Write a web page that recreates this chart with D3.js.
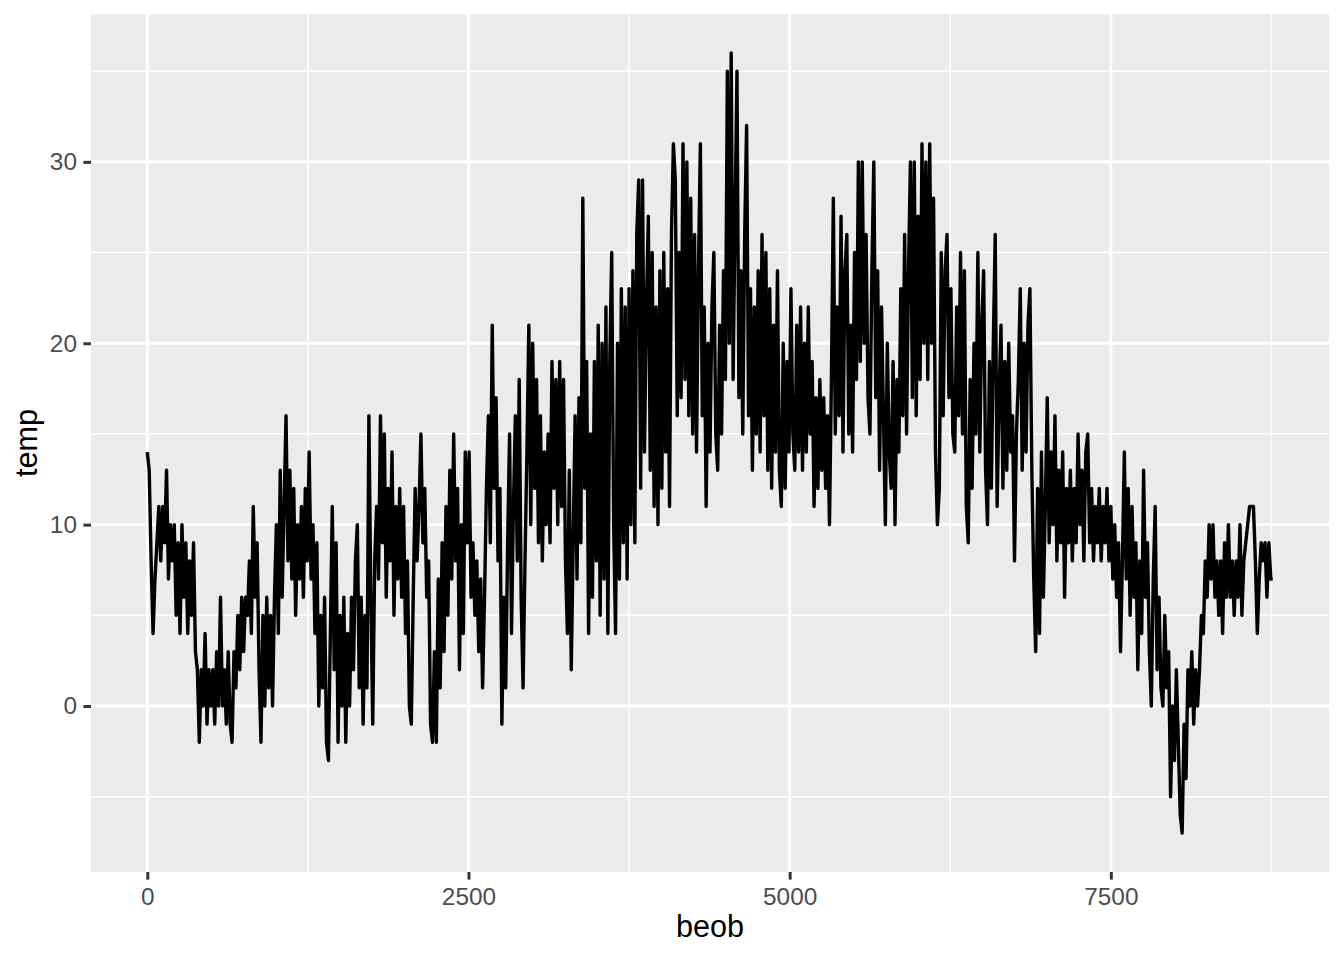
<!DOCTYPE html>
<html><head><meta charset="utf-8">
<script src="https://cdn.jsdelivr.net/npm/d3@7"></script>
<style>body{margin:0;background:#fff} text{font-family:"Liberation Sans",Arial,Helvetica,sans-serif}</style>
</head><body><svg id="c" width="1344" height="960"></svg>
<script>
// observation step (beob is the running observation number)
const beobStep = 15;
// temperatures (local highs / lows along the series)
const temp = [
 14, 13, 8, 4, 7, 9, 11, 8, 11, 9,
 13, 7, 10, 8, 10, 5, 9, 4, 10, 6,
 9, 4, 8, 5, 9, 3, 2, -2, 2, 0,
 4, -1, 2, 0, 2, -1, 3, 0, 6, 0,
 2, -1, 3, -1, -2, 3, 1, 5, 2, 6,
 3, 6, 5, 8, 4, 11, 6, 9, 2, -2,
 5, 0, 6, 1, 5, 0, 6, 10, 4, 13,
 6, 11, 16, 8, 13, 7, 12, 5, 10, 7,
 11, 6, 12, 8, 14, 7, 10, 4, 9, 0,
 5, 1, 6, -2, -3, 4, 11, 2, 9, -2,
 5, 0, 6, -2, 4, 0, 6, 2, 8, 10,
 1, 6, -1, 5, 1, 16, 6, -1, 8, 11,
 7, 16, 9, 15, 6, 12, 8, 14, 5, 11,
 7, 12, 6, 11, 4, 8, 0, -1, 6, 12,
 8, 11, 15, 9, 12, 6, 8, -1, -2, 3,
 -2, 7, 1, 9, 3, 11, 5, 13, 7, 15,
 8, 12, 2, 10, 4, 14, 9, 14, 6, 9,
 5, 8, 3, 7, 1, 6, 12, 16, 9, 21,
 12, 17, 8, 12, -1, 6, 1, 9, 15, 4,
 11, 16, 8, 18, 6, 1, 8, 14, 21, 10,
 20, 12, 18, 9, 16, 8, 14, 10, 15, 9,
 19, 12, 18, 10, 19, 11, 18, 8, 4, 13,
 2, 9, 16, 7, 17, 9, 28, 12, 19, 4,
 15, 6, 19, 8, 21, 5, 20, 7, 22, 4,
 19, 25, 10, 4, 20, 7, 23, 9, 22, 7,
 23, 10, 24, 9, 26, 29, 12, 29, 14, 22,
 27, 13, 25, 11, 22, 10, 24, 12, 25, 14,
 23, 11, 26, 31, 29, 16, 25, 17, 31, 18,
 30, 16, 28, 15, 26, 14, 24, 31, 16, 22,
 11, 20, 14, 22, 25, 15, 13, 21, 15, 24,
 18, 35, 20, 36, 18, 27, 35, 17, 24, 15,
 26, 32, 16, 23, 13, 22, 15, 24, 14, 26,
 16, 25, 13, 23, 12, 21, 14, 24, 13, 11,
 20, 12, 19, 14, 23, 15, 13, 21, 14, 22,
 13, 20, 14, 22, 15, 19, 11, 17, 12, 18,
 13, 17, 12, 16, 10, 18, 28, 15, 22, 16,
 27, 14, 24, 26, 15, 21, 14, 25, 18, 30,
 19, 30, 20, 26, 17, 15, 24, 30, 17, 24,
 13, 22, 16, 10, 20, 14, 12, 19, 10, 18,
 14, 23, 16, 26, 15, 24, 30, 17, 30, 16,
 27, 18, 31, 20, 30, 18, 31, 20, 28, 14,
 10, 12, 25, 16, 24, 26, 17, 23, 15, 14,
 22, 16, 25, 15, 24, 11, 9, 18, 12, 20,
 15, 25, 14, 21, 24, 13, 10, 19, 12, 20,
 26, 11, 17, 21, 12, 19, 13, 20, 14, 16,
 8, 15, 18, 23, 13, 20, 14, 21, 23, 13,
 7, 3, 12, 4, 14, 6, 11, 17, 9, 14,
 10, 16, 8, 13, 9, 14, 6, 12, 9, 13,
 8, 12, 9, 15, 10, 13, 8, 14, 15, 9,
 12, 8, 11, 9, 12, 8, 11, 9, 12, 8,
 11, 7, 10, 6, 9, 3, 8, 14, 7, 12,
 5, 11, 6, 9, 2, 8, 4, 13, 6, 9,
 3, 0, 7, 11, 2, 6, 1, 0, 5, 1,
 3, -5, 0, -3, 2, -2, -6, -7, -1, -4,
 2, 0, 3, -1, 2, 0, 2, 5, 4, 8,
 6, 10, 7, 10, 6, 8, 5, 8, 4, 9,
 6, 10, 6, 8, 5, 8, 6, 10, 5, 8,
 9, 10, 11, 11, 11, 8, 4, 7, 9, 8,
 9, 6, 9, 7, 7
];
const xMajorTicks = [0, 2500, 5000, 7500];
const xMinorTicks = [1250, 3750, 6250, 8750];
const yMajorTicks = [0, 10, 20, 30];
const yMinorTicks = [-5, 5, 15, 25, 35];
const xTitle = "beob";
const yTitle = "temp";

const data = temp.map((t, i) => ({beob: i * beobStep, temp: t}));

const L = 91, R = 1329, T = 14, B = 872;
const xe = d3.extent(data, d => d.beob), ye = d3.extent(data, d => d.temp);
const xp = (xe[1] - xe[0]) * 0.05, yp = (ye[1] - ye[0]) * 0.05;
const x = d3.scaleLinear().domain([xe[0] - xp, xe[1] + xp]).range([L, R]);
const y = d3.scaleLinear().domain([ye[0] - yp, ye[1] + yp]).range([B, T]);

const svg = d3.select("#c");
svg.append("rect").attr("x", L).attr("y", T).attr("width", R - L).attr("height", B - T).attr("fill", "#EBEBEB");

const inX = v => v >= x.domain()[0] && v <= x.domain()[1];
const inY = v => v >= y.domain()[0] && v <= y.domain()[1];
svg.append("g").selectAll("line").data(xMinorTicks.filter(inX)).join("line")
  .attr("x1", d => x(d)).attr("x2", d => x(d)).attr("y1", T).attr("y2", B)
  .attr("stroke", "#fff").attr("stroke-width", 1.48);
svg.append("g").selectAll("line").data(yMinorTicks.filter(inY)).join("line")
  .attr("y1", d => y(d)).attr("y2", d => y(d)).attr("x1", L).attr("x2", R)
  .attr("stroke", "#fff").attr("stroke-width", 1.48);
svg.append("g").selectAll("line").data(xMajorTicks).join("line")
  .attr("x1", d => x(d)).attr("x2", d => x(d)).attr("y1", T).attr("y2", B)
  .attr("stroke", "#fff").attr("stroke-width", 2.96);
svg.append("g").selectAll("line").data(yMajorTicks).join("line")
  .attr("y1", d => y(d)).attr("y2", d => y(d)).attr("x1", L).attr("x2", R)
  .attr("stroke", "#fff").attr("stroke-width", 2.96);

const line = d3.line().x(d => x(d.beob)).y(d => y(d.temp));
svg.append("path").datum(data).attr("d", line)
  .attr("fill", "none").attr("stroke", "#000").attr("stroke-width", 3.4)
  .attr("stroke-linejoin", "round");

const xAxis = svg.append("g").attr("transform", `translate(0,${B})`)
  .call(d3.axisBottom(x).tickValues(xMajorTicks).tickFormat(d3.format("d")).tickSize(7.6).tickPadding(7.8));
const yAxis = svg.append("g").attr("transform", `translate(${L},0)`)
  .call(d3.axisLeft(y).tickValues(yMajorTicks).tickFormat(d3.format("d")).tickSize(7.6).tickPadding(6.4));
[xAxis, yAxis].forEach(a => {
  a.select(".domain").remove();
  a.selectAll(".tick line").attr("stroke", "#333333").attr("stroke-width", 2.96);
  a.selectAll(".tick text").attr("fill", "#4D4D4D").style("font-size", "24.4px")
    .style("font-family", '"Liberation Sans",Arial,Helvetica,sans-serif');
});

svg.append("text").attr("x", (L + R) / 2).attr("y", 937).attr("text-anchor", "middle")
  .style("font-size", "30.6px").attr("fill", "#000").text(xTitle);
svg.append("text").attr("transform", `translate(36.5,${(T + B) / 2}) rotate(-90)`).attr("text-anchor", "middle")
  .style("font-size", "30.6px").attr("fill", "#000").text(yTitle);
</script></body></html>
